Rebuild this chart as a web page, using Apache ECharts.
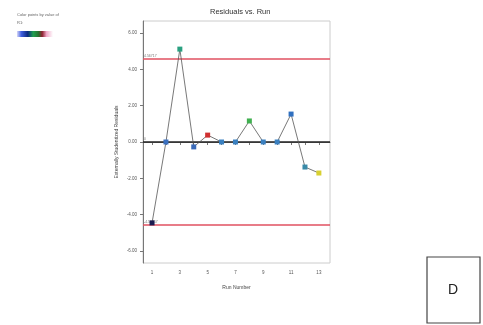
<!DOCTYPE html>
<html>
<head>
<meta charset="utf-8">
<script src="https://cdn.jsdelivr.net/npm/echarts@6/dist/echarts.min.js"></script>
<style>
  html, body { margin: 0; padding: 0; background: #fff; }
  #chart { width: 483px; height: 325px; }
</style>
</head>
<body>
<div id="chart"></div>
<script>
// run order and externally studentized residuals
const runs = [1, 2, 3, 4, 5, 6, 7, 8, 9, 10, 11, 12, 13]
const residuals = [-4.46, 0, 5.12, -0.27, 0.38, 0, 0, 1.16, 0, 0, 1.54, -1.38, -1.71]
const pointColors = ['#1a1a50', '#3a70c0', '#2aa080', '#3a6ab8', '#d03030', '#3a80c0', '#3a80c0',
  '#40b050', '#3a80c0', '#3a80c0', '#3070c0', '#3a8aa8', '#d8d030']
const limit = 4.56717
const yTicks = [-6, -4, -2, 0, 2, 4, 6]
const xLabels = [1, 3, 5, 7, 9, 11, 13]

const chart = echarts.init(document.getElementById('chart'))

chart.setOption({
  animation: false,
  title: {
    text: 'Residuals vs. Run',
    left: 205, top: 3,
    textStyle: { fontSize: 7.5, fontWeight: 'normal', color: '#333', fontFamily: 'Arial' },
  },
  grid: { left: 143, top: 21, right: 153, bottom: 62 },
  xAxis: {
    type: 'value',
    min: 0.35, max: 13.8,
    name: 'Run Number', nameLocation: 'middle', nameGap: 22,
    nameTextStyle: { fontSize: 5, color: '#444' },
    axisLine: { lineStyle: { color: '#777' } },
    axisTick: { customValues: runs, length: 3, lineStyle: { color: '#777' } },
    axisLabel: { customValues: xLabels, fontSize: 4.5, color: '#555', margin: 7 },
    splitLine: { show: false },
  },
  yAxis: {
    type: 'value',
    min: -6.67, max: 6.67,
    name: 'Externally Studentized Residuals', nameLocation: 'middle', nameGap: 24,
    nameTextStyle: { fontSize: 5, color: '#444' },
    axisLine: { show: true, lineStyle: { color: '#777' } },
    axisTick: { customValues: yTicks, length: 3, lineStyle: { color: '#777' } },
    axisLabel: {
      customValues: yTicks, fontSize: 4.5, color: '#555', margin: 6,
      formatter: v => v.toFixed(2),
    },
    splitLine: { show: false },
  },
  graphic: [
    // plot frame
    { type: 'rect', shape: { x: 143, y: 21, width: 187, height: 242 }, silent: true,
      style: { fill: 'none', stroke: '#ccc', lineWidth: 1 } },
    // colour legend
    { type: 'text', left: 17, top: 13, style: { text: 'Color points by value of', fontSize: 4, fill: '#666' } },
    { type: 'text', left: 17, top: 21, style: { text: 'R1:', fontSize: 4, fill: '#666' } },
    { type: 'rect', shape: { x: 17, y: 31, width: 36, height: 6 },
      style: {
        fill: new echarts.graphic.LinearGradient(0, 0, 1, 0, [
          { offset: 0, color: '#d8d8f8' },
          { offset: 0.12, color: '#4060e0' },
          { offset: 0.3, color: '#0a2a80' },
          { offset: 0.45, color: '#20a050' },
          { offset: 0.6, color: '#2a7030' },
          { offset: 0.7, color: '#902030' },
          { offset: 0.82, color: '#f0a8c8' },
          { offset: 1, color: '#ffffff' },
        ]),
      } },
    // panel letter
    { type: 'rect', shape: { x: 427, y: 257, width: 53, height: 66 },
      style: { fill: '#fff', stroke: '#444', lineWidth: 1.2 } },
    { type: 'text', x: 453, y: 290,
      style: { text: 'D', fontSize: 14, fill: '#222', align: 'center', verticalAlign: 'middle', fontFamily: 'Arial' } },
  ],
  series: [{
    type: 'line',
    data: runs.map((r, i) => ({ value: [r, residuals[i]], itemStyle: { color: pointColors[i] } })),
    symbol: 'rect', symbolSize: 5,
    lineStyle: { color: '#555', width: 0.8 },
    z: 5,
    markLine: {
      silent: true, symbol: 'none', z: 3,
      data: [
        { yAxis: limit, lineStyle: { color: '#e05060', width: 1.5, type: 'solid' },
          label: { formatter: limit.toFixed(5) } },
        { yAxis: -limit, lineStyle: { color: '#e05060', width: 1.5, type: 'solid' },
          label: { formatter: (-limit).toFixed(5) } },
        { yAxis: 0, lineStyle: { color: '#222', width: 1.5, type: 'solid' },
          label: { formatter: '0' } },
      ],
      label: { position: 'insideStartTop', fontSize: 3.5, color: '#777', distance: 1 },
    },
  }],
})
</script>
</body>
</html>
